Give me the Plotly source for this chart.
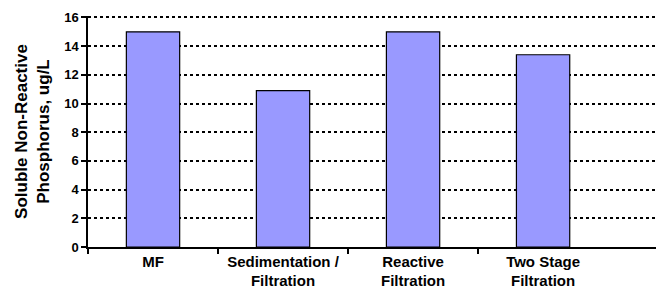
import plotly.graph_objects as go

categories = ["MF", "Sedimentation /<br>Filtration", "Reactive<br>Filtration", "Two Stage<br>Filtration"]
values = [15.0, 10.9, 15.0, 13.4]
y_ticks = [0, 2, 4, 6, 8, 10, 12, 14, 16]

positions = list(range(len(categories)))
boundaries = [p - 0.5 for p in positions]

fig = go.Figure()
fig.add_trace(go.Bar(
    x=positions, y=values,
    marker=dict(color="#9999FF", line=dict(color="#000000", width=1.2)),
    width=0.41,
))

font_family = "Liberation Sans, Arial, sans-serif"
fig.update_layout(
    width=656, height=291,
    margin=dict(l=80, r=0, t=8, b=52, autoexpand=False),
    paper_bgcolor="white", plot_bgcolor="white",
    showlegend=False,
    font=dict(family=font_family, color="black"),
)
fig.update_xaxes(
    type="linear",
    range=[-0.5, 3.93],
    automargin=False,
    tickvals=positions, ticktext=categories, ticks="",
    showline=True, linecolor="black", linewidth=1.5,
    minor=dict(tickvals=boundaries, ticks="outside", ticklen=5,
               tickcolor="black", tickwidth=1.5, showgrid=False),
    tickfont=dict(size=15, family=font_family, color="black", weight="bold"),
    showgrid=False, zeroline=False,
)
fig.update_yaxes(
    range=[0, 16.1], tickvals=y_ticks,
    automargin=False,
    showline=True, linecolor="black", linewidth=1.5,
    ticks="outside", ticklen=5, tickcolor="black", tickwidth=1.5,
    tickfont=dict(size=13, family=font_family, color="black", weight="bold"),
    showgrid=True, gridcolor="black", griddash="dot", gridwidth=1.5,
    zeroline=False,
    title=dict(text="Soluble Non-Reactive<br>Phosphorus, ug/L",
               font=dict(size=17, family=font_family, color="black", weight="bold"),
               standoff=10),
)
fig.write_html("out.html")
